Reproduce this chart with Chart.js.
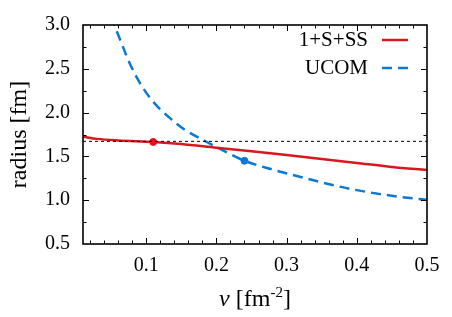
<!DOCTYPE html>
<html>
<head>
<meta charset="utf-8">
<script src="https://cdn.jsdelivr.net/npm/chart.js@4.4.1/dist/chart.umd.min.js"></script>
<style>
html,body{margin:0;padding:0;background:#fff;}
</style>
</head>
<body>
<canvas id="radiusChart" width="452" height="317"></canvas>
<script>
/* DATA */
let nuRed=[0.01,0.03,0.06,0.11,0.15,0.20,0.25,0.30,0.35,0.40,0.45,0.50];
let radiusRed=[1.725,1.70,1.682,1.665,1.642,1.60,1.56,1.515,1.47,1.425,1.38,1.345];

let nuBlue=[0.05,0.055,0.0645,0.0716,0.082,0.095,0.112,0.131,0.154,0.185,0.21,0.24,0.28,0.32,0.39,0.46,0.50];
let radiusBlue=[3.1,2.99,2.80,2.655,2.47,2.287,2.105,1.957,1.81,1.67,1.565,1.45,1.35,1.265,1.13,1.04,1.005];

let markNu=[0.11,0.24];
let markRadius=[1.665,1.45];

let refNu=[0.01,0.5];
let refRadius=[1.672,1.672];

let xTicks=[0.1,0.2,0.3,0.4,0.5];
let yTicks=[0.5,1.0,1.5,2.0,2.5,3.0];
let seriesNames=["1+S+SS","UCOM"];

const RED="#d7191f";
const BLUE="#0a79d6";
const FONT="'Liberation Serif','Times New Roman',serif";

function pts(xs,ys){return xs.map((x,i)=>({x:x,y:ys[i]}));}

/* ticks, frame, legend, titles */
let gnuplotLook={
id:"gnuplotLook",
afterDraw(chart){
let ctx=chart.ctx, a=chart.chartArea;
let xs=chart.scales.x, ys=chart.scales.y;
ctx.save();
ctx.strokeStyle="#000";
ctx.lineWidth=1;
// minor + major ticks, inward, mirrored
for(let i=1;i<25;i++){
let v=0.02*i;
if(v<xs.min) continue;
let major=Math.abs(v*10-Math.round(v*10))<1e-6;
let len=major?6:3.5;
let px=Math.round(xs.getPixelForValue(v))+0.5;
ctx.beginPath();
ctx.moveTo(px,a.bottom);ctx.lineTo(px,a.bottom-len);
ctx.moveTo(px,a.top);ctx.lineTo(px,a.top+len);
ctx.stroke();
}
for(let v=0.75;v<3.0;v+=0.25){
let major=Math.abs(v*2-Math.round(v*2))<1e-6;
let len=major?6:3.5;
let py=Math.round(ys.getPixelForValue(v))+0.5;
ctx.beginPath();
ctx.moveTo(a.left,py);ctx.lineTo(a.left+len,py);
ctx.moveTo(a.right,py);ctx.lineTo(a.right-len,py);
ctx.stroke();
}
// frame
ctx.lineWidth=1.6;
ctx.strokeRect(a.left,a.top,a.right-a.left,a.bottom-a.top);

// legend
ctx.fillStyle="#000";
ctx.font="21px "+FONT;
ctx.textAlign="right";
ctx.textBaseline="middle";
let cols=[RED,BLUE], dashes=[[],[10,6]];
seriesNames.forEach((n,i)=>{
let y=40+i*28;
ctx.fillText(n,368,y);
ctx.strokeStyle=cols[i];
ctx.lineWidth=2.5;
ctx.setLineDash(dashes[i]);
ctx.beginPath();ctx.moveTo(382,y);ctx.lineTo(408,y);ctx.stroke();
});
ctx.setLineDash([]);

// y title
ctx.save();
ctx.translate(20,(a.top+a.bottom)/2);
ctx.rotate(-Math.PI/2);
ctx.textAlign="center";
ctx.textBaseline="middle";
ctx.font="24px "+FONT;
ctx.fillText("radius [fm]",0,0);
ctx.restore();

// x title with superscript
let parts=[["ν","italic 24px "+FONT,0],[" [fm","24px "+FONT,0],["-2","15px "+FONT,-9],["]","24px "+FONT,0]];
let w=0;
parts.forEach(p=>{ctx.font=p[1];w+=ctx.measureText(p[0]).width;});
let x0=(a.left+a.right)/2-w/2;
ctx.textAlign="left";
ctx.textBaseline="alphabetic";
parts.forEach(p=>{
ctx.font=p[1];
ctx.fillText(p[0],x0,306+p[2]);
x0+=ctx.measureText(p[0]).width;
});
ctx.restore();
}
};

let chart=new Chart(document.getElementById("radiusChart"),{
type:"scatter",
data:{datasets:[
{data:pts(refNu,refRadius),showLine:true,borderColor:"#000",borderWidth:1,borderDash:[3,3],pointRadius:0},
{data:pts(nuRed,radiusRed),showLine:true,borderColor:RED,borderWidth:2.5,pointRadius:0,cubicInterpolationMode:"monotone"},
{data:pts(nuBlue,radiusBlue),showLine:true,borderColor:BLUE,borderWidth:2.5,borderDash:[10,6],pointRadius:0,cubicInterpolationMode:"monotone"},
{data:[{x:markNu[0],y:markRadius[0]}],pointRadius:3.5,pointBackgroundColor:RED,pointBorderColor:RED},
{data:[{x:markNu[1],y:markRadius[1]}],pointRadius:3.5,pointBackgroundColor:BLUE,pointBorderColor:BLUE}
]},
options:{
responsive:false,
animation:false,
devicePixelRatio:1,
layout:{padding:{top:17,right:25,left:0,bottom:0}},
plugins:{legend:{display:false},tooltip:{enabled:false}},
scales:{
x:{
type:"linear",min:0.01,max:0.5,
grid:{display:false,drawTicks:false},
border:{display:false},
afterBuildTicks:s=>{s.ticks=xTicks.map(v=>({value:v}));},
afterFit:s=>{s.height=73;},
ticks:{padding:10,color:"#000",font:{family:FONT,size:20},maxRotation:0,callback:v=>v.toFixed(1)}
},
y:{
type:"linear",min:0.5,max:3.0,
grid:{display:false,drawTicks:false},
border:{display:false},
afterBuildTicks:s=>{s.ticks=yTicks.map(v=>({value:v}));},
afterFit:s=>{s.width=83;},
ticks:{padding:13,color:"#000",font:{family:FONT,size:20},callback:v=>v.toFixed(1)}
}
}
},
plugins:[gnuplotLook]
});
</script>
</body>
</html>
